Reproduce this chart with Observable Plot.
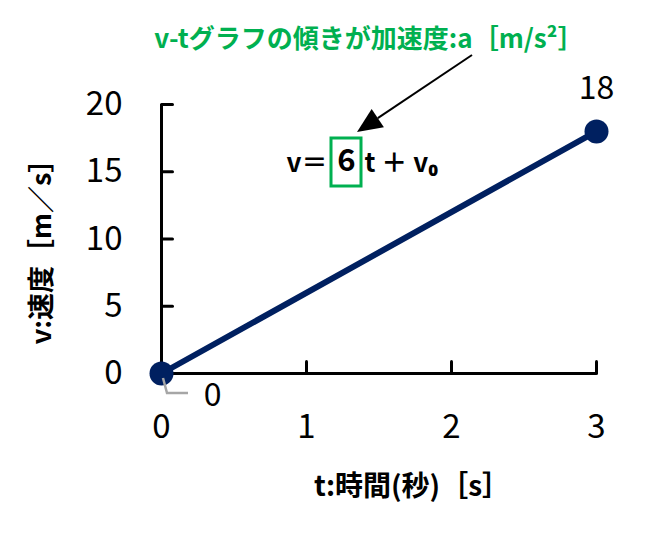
<!DOCTYPE html>
<html><head><meta charset="utf-8">
<script src="https://cdn.jsdelivr.net/npm/d3@7"></script>
<script src="https://cdn.jsdelivr.net/npm/@observablehq/plot@0.6"></script>
<style>body{margin:0;background:#fff}</style>
</head><body><div id="chart"></div>
<script>
// Data
const times = [0, 3];
const speeds = [0, 18];
const xTicks = [0, 1, 2, 3];
const yTicks = [0, 5, 10, 15, 20];
const xTitle = "t:時間(秒)［s］";
const yTitle = "v:速度［m／s］";
const noteTitle = "v-tグラフの傾きが加速度:a［m/s²］";
const eqLeft = "v＝";
const eqSlope = "6";
const eqRight = "t ＋ v₀";

const data = times.map((t, i) => ({t, v: speeds[i]}));
const font = "'Noto Sans CJK JP', 'Noto Sans', sans-serif";
const navy = "#002060";
const green = "#00B050";
const tickShape = {draw(ctx, l) { ctx.moveTo(0, 0); ctx.lineTo(0, -l); }};

const chart = Plot.plot({
  width: 665, height: 534,
  marginLeft: 161, marginRight: 69, marginTop: 104, marginBottom: 161,
  style: {fontFamily: font, background: "#fff", color: "#000", overflow: "visible"},
  x: {domain: [0, 3], label: null},
  y: {domain: [0, 20], label: null},
  marks: [
    Plot.axisX(xTicks, {tickSize: 0, tickPadding: 41, fontSize: 33, fontFamily: font, tickFormat: d3.format("d")}),
    Plot.axisY(yTicks, {tickSize: 0, tickPadding: 39, fontSize: 33, fontFamily: font, tickFormat: d3.format("d")}),
    Plot.ruleY([0], {stroke: "#000", strokeWidth: 3}),
    Plot.ruleX([0], {stroke: "#000", strokeWidth: 3}),
    Plot.vector(xTicks.slice(1), {x: d => d, y: 0, length: 12, rotate: 0, anchor: "start", shape: tickShape, stroke: "#000", strokeWidth: 3}),
    Plot.vector(yTicks.slice(1), {x: 0, y: d => d, length: 11, rotate: 90, anchor: "start", shape: tickShape, stroke: "#000", strokeWidth: 3}),
    Plot.line(data, {x: "t", y: "v", stroke: navy, strokeWidth: 6}),
    Plot.dot(data, {x: "t", y: "v", r: 12, fill: navy, stroke: null}),
    Plot.text(data.slice(-1), {x: "t", y: "v", text: d => String(d.v), dy: -43, fontSize: 32, fill: "#000", fontFamily: font}),
    Plot.text(data.slice(0, 1), {x: "t", y: "v", text: d => String(d.v), dx: 51, dy: 22, fontSize: 32, fill: "#000", fontFamily: font}),
    Plot.text([yTitle], {frameAnchor: "left", textAnchor: "middle", lineAnchor: "middle", rotate: -90, dx: -119, dy: 6, fontSize: 27, fontWeight: "bold", fill: "#000", fontFamily: font}),
    Plot.text([xTitle], {frameAnchor: "bottom", textAnchor: "middle", lineAnchor: "middle", dx: 33, dy: 114, fontSize: 28, fontWeight: "bold", fill: "#000", fontFamily: font}),
    Plot.text([noteTitle], {frameAnchor: "top", textAnchor: "middle", lineAnchor: "middle", dx: -10, dy: -65, fontSize: 26, fontWeight: "bold", fill: green, fontFamily: font}),
    Plot.text([eqLeft], {frameAnchor: "top-left", textAnchor: "end", lineAnchor: "middle", dx: 166, dy: 59, fontSize: 26, fontWeight: "bold", fill: "#000", fontFamily: font}),
    Plot.text([eqSlope], {frameAnchor: "top-left", textAnchor: "middle", lineAnchor: "middle", dx: 185, dy: 57, fontSize: 31, fontWeight: "bold", fill: "#000", fontFamily: font}),
    Plot.text([eqRight], {frameAnchor: "top-left", textAnchor: "start", lineAnchor: "middle", dx: 203, dy: 59, fontSize: 26, fontWeight: "bold", fill: "#000", fontFamily: font})
  ]
});
document.getElementById("chart").appendChild(chart);

// Annotation overlays (box, arrow, leader line)
const svg = d3.select(chart);
const sx = chart.scale("x"), sy = chart.scale("y");
const p0 = [sx.apply(data[0].t), sy.apply(data[0].v)];
svg.append("path")
  .attr("d", `M${p0[0] + 2},${p0[1] + 5} L${p0[0] + 6},${p0[1] + 20} L${p0[0] + 27},${p0[1] + 20}`)
  .attr("fill", "none").attr("stroke", "#A6A6A6").attr("stroke-width", 2.5);
svg.append("rect")
  .attr("x", 331).attr("y", 138).attr("width", 30).attr("height", 48)
  .attr("fill", "none").attr("stroke", green).attr("stroke-width", 3);
const a0 = [472, 55], tip = [357, 132];
const dxv = tip[0] - a0[0], dyv = tip[1] - a0[1], L = Math.hypot(dxv, dyv);
const ux = dxv / L, uy = dyv / L, hl = 25, hw = 11;
const bx = tip[0] - ux * hl, by = tip[1] - uy * hl;
svg.append("line").attr("x1", a0[0]).attr("y1", a0[1]).attr("x2", bx).attr("y2", by)
  .attr("stroke", "#000").attr("stroke-width", 2);
svg.append("path")
  .attr("d", `M${tip[0]},${tip[1]} L${bx - uy * hw},${by + ux * hw} L${bx + uy * hw},${by - ux * hw} Z`)
  .attr("fill", "#000");
</script>
</body></html>
